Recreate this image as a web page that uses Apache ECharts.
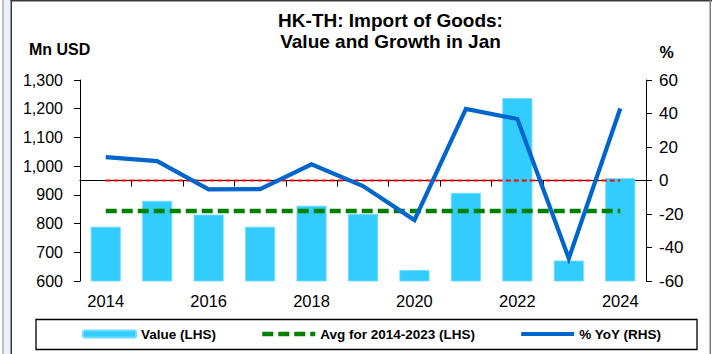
<!DOCTYPE html>
<html>
<head>
<meta charset="utf-8">
<script src="https://cdn.jsdelivr.net/npm/echarts@6/dist/echarts.min.js"></script>
<style>
  html, body { margin: 0; padding: 0; background: #ffffff; }
  #chart { width: 712px; height: 354px; }
</style>
</head>
<body>
<div id="chart"></div>
<script>
// January imports of goods, Hong Kong from Thailand
const years = ['2014', '2015', '2016', '2017', '2018', '2019', '2020', '2021', '2022', '2023', '2024'];
const importValue = [789, 879, 831, 789, 862, 833, 638, 907, 1237, 671, 958];   // Mn USD
const yoyGrowth = [13.9, 11.6, -5.3, -5.1, 9.7, -3.3, -23.6, 42.7, 36.7, -46.5, 43.0]; // %
const avg2014to2023 = 844;  // Mn USD
const zeroGrowth = [0, 0, 0, 0, 0, 0, 0, 0, 0, 0, 0];

const leftTicks = { min: 600, max: 1300, step: 100 };
const rightTicks = { min: -60, max: 60, step: 20 };

const FONT = '"Liberation Sans", Arial, sans-serif';

const GREEN_DASH = [11, 5];

const chart = echarts.init(document.getElementById('chart'), null, { renderer: 'svg' });

chart.setOption({
  animation: false,
  backgroundColor: '#ffffff',
  title: {
    text: 'HK-TH: Import of Goods:\nValue and Growth in Jan',
    left: 390.5,
    top: 9.5,
    padding: 0,
    textAlign: 'center',
    textStyle: { fontFamily: FONT, fontWeight: 'bold', fontSize: 19, lineHeight: 21, color: '#000' }
  },
  grid: { left: 80, right: 66, top: 80, bottom: 73, containLabel: false },
  legend: {
    left: 82,
    top: 327,
    padding: 0,
    itemGap: 44,
    itemWidth: 53,
    itemHeight: 7,
    textStyle: { fontFamily: FONT, fontWeight: 'bold', fontSize: 13.5, lineHeight: 14, color: '#000', padding: [0, 0, 0, 0] },
    data: [
      { name: 'Value (LHS)' },
      {
        name: 'Avg for 2014-2023 (LHS)',
        itemStyle: { opacity: 0 },
        lineStyle: { color: '#008000', width: 4.5, type: GREEN_DASH, opacity: 1 }
      },
      {
        name: '% YoY (RHS)',
        itemStyle: { opacity: 0 },
        lineStyle: { color: '#0066CC', width: 4.2, type: 'solid', opacity: 1 }
      }
    ]
  },
  xAxis: {
    type: 'category',
    data: years,
    boundaryGap: true,
    axisLine: { lineStyle: { color: '#000', width: 1 } },
    axisTick: { show: true, interval: 0, length: 6, lineStyle: { color: '#000' } },
    axisLabel: { interval: 1, margin: 11, fontFamily: FONT, fontSize: 16.5, color: '#000' },
    splitLine: { show: false }
  },
  yAxis: [
    {
      type: 'value',
      min: leftTicks.min, max: leftTicks.max, interval: leftTicks.step,
      axisLine: { show: true, lineStyle: { color: '#000', width: 1 } },
      axisTick: { show: true, length: 6, lineStyle: { color: '#000' } },
      axisLabel: {
        margin: 17, fontFamily: FONT, fontSize: 16, color: '#000',
        formatter: v => v.toLocaleString('en-US')
      },
      splitLine: { show: false }
    },
    {
      type: 'value',
      position: 'right',
      min: rightTicks.min, max: rightTicks.max, interval: rightTicks.step,
      axisLine: { show: true, lineStyle: { color: '#000', width: 1 } },
      axisTick: { show: true, length: 6, lineStyle: { color: '#000' } },
      axisLabel: { margin: 13, fontFamily: FONT, fontSize: 17, color: '#000' },
      splitLine: { show: false }
    }
  ],
  series: [
    {
      name: 'Value (LHS)',
      type: 'bar',
      data: importValue,
      barWidth: 30,
      itemStyle: { color: '#33CCFF', borderColor: '#6DDBFF', borderWidth: 0.8 },
      z: 1
    },
    {
      name: 'zero',
      type: 'line',
      yAxisIndex: 1,
      data: zeroGrowth,
      symbol: 'none',
      silent: true,
      lineStyle: { color: '#FF0000', width: 1.8, type: [5, 3] },
      z: 2
    },
    {
      name: 'Avg for 2014-2023 (LHS)',
      type: 'line',
      data: years.map(() => avg2014to2023),
      symbol: 'none',
      itemStyle: { color: '#008000' },
      lineStyle: { color: '#008000', width: 4.5, type: GREEN_DASH },
      z: 3
    },
    {
      name: '% YoY (RHS)',
      type: 'line',
      yAxisIndex: 1,
      data: yoyGrowth,
      symbol: 'none',
      itemStyle: { color: '#0066CC' },
      lineStyle: { color: '#0066CC', width: 4.2, join: 'miter' },
      z: 4
    }
  ],
  graphic: [
    // frame around the chart
    { type: 'rect', shape: { x: 2, y: 0, width: 2, height: 354 }, style: { fill: '#BEBEBE' }, silent: true },
    { type: 'rect', shape: { x: 4, y: 0, width: 6.5, height: 354 }, style: { fill: '#ECEFF8' }, silent: true },
    { type: 'rect', shape: { x: 10.5, y: 0, width: 1.5, height: 354 }, style: { fill: '#3A3A3A' }, silent: true },
    { type: 'rect', shape: { x: 10.5, y: 0, width: 701.5, height: 1.5 }, style: { fill: '#3A3A3A' }, silent: true },
    { type: 'rect', shape: { x: 709.5, y: 0, width: 1.5, height: 354 }, style: { fill: '#7A7A7A' }, silent: true },
    // legend box
    { type: 'rect', shape: { x: 36, y: 319.5, width: 661, height: 30 }, style: { fill: 'none', stroke: '#000', lineWidth: 1.3 }, silent: true },
    // axis captions
    { type: 'text', left: 29, top: 41.5, style: { text: 'Mn USD', font: 'bold 16px "Liberation Sans", Arial, sans-serif', fill: '#000' }, silent: true },
    { type: 'text', left: 659.5, top: 44.5, style: { text: '%', font: 'bold 16px "Liberation Sans", Arial, sans-serif', fill: '#000' }, silent: true }
  ]
});
</script>
</body>
</html>
